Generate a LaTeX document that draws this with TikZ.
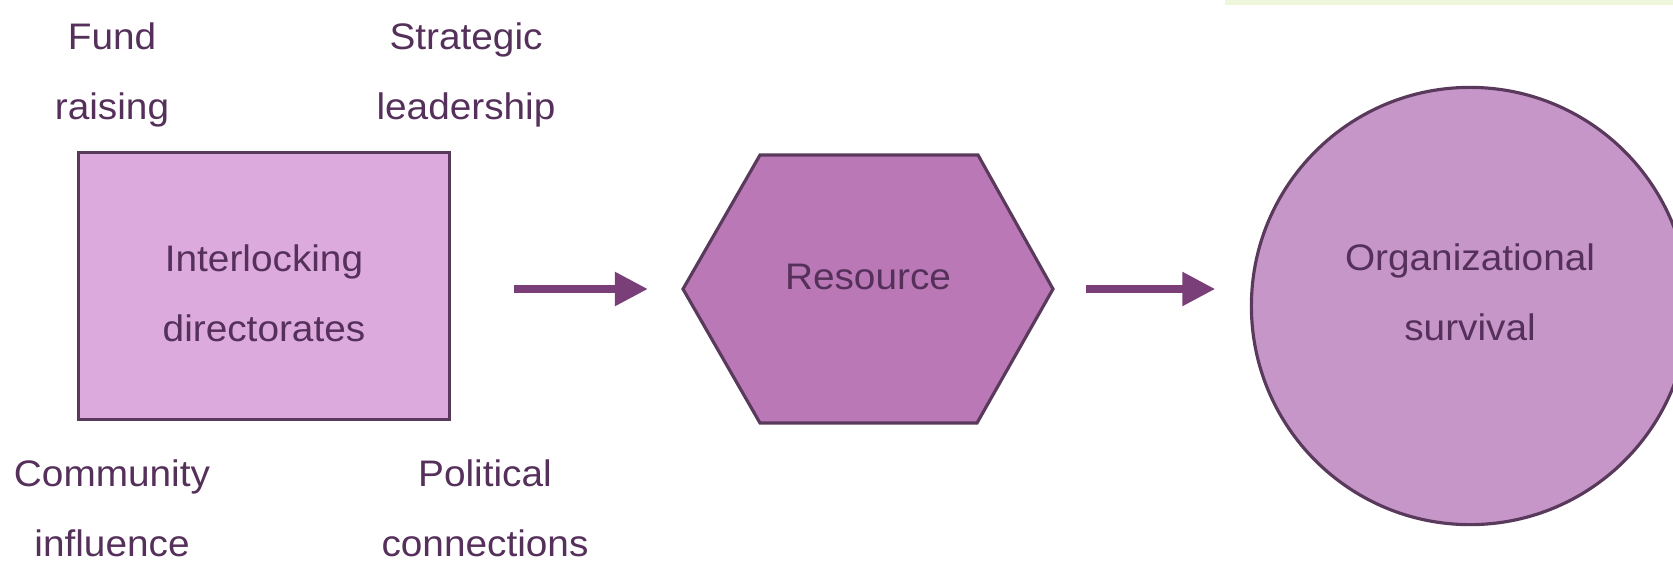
\documentclass[tikz,border=0pt]{standalone}
\usepackage{fontspec}
\setmainfont{Liberation Sans}[FakeStretch=1.05]
\usetikzlibrary{arrows.meta}
\definecolor{boxfill}{HTML}{DCAADC}
\definecolor{hexfill}{HTML}{BA79B6}
\definecolor{circfill}{HTML}{C796C8}
\definecolor{edgeline}{HTML}{5A3A5C}
\definecolor{inktext}{HTML}{55305A}
\definecolor{arrowink}{HTML}{7A3E78}
\definecolor{scanstrip}{HTML}{EEF7DA}
\tikzset{
  shapetext/.style={text=inktext, align=center, outer sep=0pt,
    font=\fontsize{10.5}{20}\selectfont},
  outline/.style={draw=edgeline, line width=0.9pt},
  flow/.style={-{Triangle[length=0.33cm,width=0.32cm]}, line width=2.3pt, draw=arrowink},
}
\begin{document}
\begin{tikzpicture}[x=0.01cm, y=-0.01cm]
\useasboundingbox (0,0) rectangle (1673,566);
\clip (0,0) rectangle (1673,566);
\fill[scanstrip] (1225,0) rectangle (1673,5);
% main shapes
\node[outline, fill=boxfill, outer sep=0pt, minimum width=3.7cm, minimum height=2.67cm] (dir) at (264,286) {};
\coordinate (hexw) at (683,289);
\coordinate (hexe) at (1053,289);
\draw[outline, fill=hexfill] (hexw) -- (760,155) -- (978,155) -- (hexe) -- (977,423) -- (760,423) -- cycle;
\node[circle, outline, fill=circfill, outer sep=0pt, minimum size=4.37cm] (surv) at (1470,306) {};
% texts in the shapes
\node[shapetext] (dirtext) at (264,293) {Interlocking\\directorates};
\node[shapetext] (res) at (868,277) {Resource};
\node[shapetext] (survtext) at (1470,292) {Organizational\\survival};
% labels round the box
\node[shapetext] (fund) at (112,75) {Fund\\raising};
\node[shapetext] (lead) at (466,75) {Strategic\\leadership};
\node[shapetext] (comm) at (112,508) {Community\\influence};
\node[shapetext] (pol) at (485,508) {Political\\connections};
% arrows
\draw[flow, shorten <=0.65cm, shorten >=0.35cm] (dir.east |- hexw) -- (hexw);
\draw[flow, shorten <=0.33cm, shorten >=0.36cm] (hexe) -- (hexe -| surv.west);
\end{tikzpicture}
\end{document}
